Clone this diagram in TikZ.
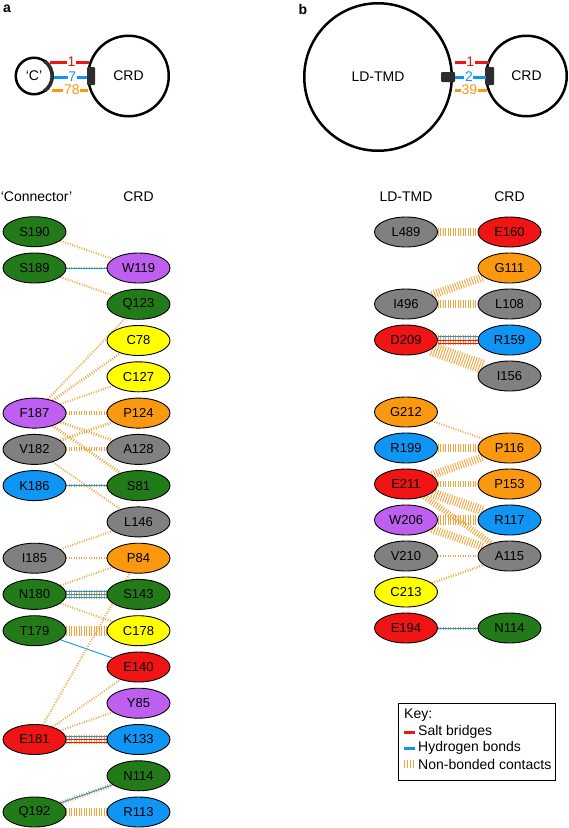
\documentclass[tikz,border=0pt]{standalone}
\usepackage{fontspec}
\setmainfont{Liberation Sans}
\usetikzlibrary{shapes.geometric,backgrounds}
\definecolor{cGreen}{RGB}{35,122,25}
\definecolor{cPurple}{RGB}{190,95,240}
\definecolor{cYellow}{RGB}{255,255,0}
\definecolor{cOrange}{RGB}{250,152,15}
\definecolor{cGray}{RGB}{128,128,128}
\definecolor{cBlue}{RGB}{15,150,245}
\definecolor{cRed}{RGB}{240,20,20}
\definecolor{cHatch}{RGB}{242,165,60}
\definecolor{cPatch}{RGB}{45,45,45}
\begin{document}
\begin{tikzpicture}[x=1pt,y=-1pt,
  res/.style={ellipse,draw=black,line width=0.9pt,minimum width=63pt,minimum height=30pt,inner sep=0pt,font=\fontsize{13}{15}\selectfont},
  hdr/.style={font=\fontsize{14}{16}\selectfont},
  bigc/.style={circle,draw=black,line width=2.5pt,inner sep=0pt,font=\fontsize{14}{16}\selectfont},
  plab/.style={font=\fontsize{14}{16}\selectfont\bfseries},
  nb/.style={draw=cHatch,line width=#1,dash pattern=on 0.9pt off 1.6pt},
  nb/.default=2pt,
  hb/.style={draw=cBlue,line width=0.9pt},
  sb/.style={draw=cRed,line width=0.9pt},
  fat/.style={line width=3pt},
  numlab/.style={fill=white,inner sep=0.6pt,font=\fontsize{14}{16}\selectfont},
  patch/.style={fill=cPatch,rounded corners=1pt},
  keytxt/.style={anchor=west,inner sep=0pt,font=\fontsize{14}{16}\selectfont}]
\useasboundingbox (0,0) rectangle (569,828);

% ---------- panel a ----------
\node[plab] (la) at (7,9) {a};
\node[bigc,minimum size=36.5pt] (Cc) at (34,76) {‘C’};
\node[bigc,minimum size=80.5pt] (CRDa) at (128.5,76) {CRD};
\draw[line width=3.6pt,cPatch] (34,76) ++(-55:18.25) arc (-55:55:18.25);
\fill[patch] (87,67) rectangle (95,85);
\coordinate (a1s) at (50,62); \coordinate (a1e) at (89,62);
\coordinate (a2s) at (54,77); \coordinate (a2e) at (87,77);
\coordinate (a3s) at (52,90); \coordinate (a3e) at (88,90);
\draw[fat,cRed] (a1s) -- (a1e) node[numlab,text=cRed,pos=0.55] {1};
\draw[fat,cBlue] (a2s) -- (a2e) node[numlab,text=cBlue,pos=0.55] {7};
\draw[fat,cOrange] (a3s) -- (a3e) node[numlab,text=cOrange,pos=0.55] {78};

% ---------- panel b ----------
\node[plab] (lb) at (303,9) {b};
\node[bigc,minimum size=147.5pt] (LDb) at (378,77) {LD-TMD};
\node[bigc,minimum size=80.5pt] (CRDb) at (526.5,76) {CRD};
\fill[patch] (441,72) rectangle (455,82);
\fill[patch] (485,67) rectangle (494,85);
\coordinate (b1s) at (455,62); \coordinate (b1e) at (489,62);
\coordinate (b2s) at (455,77); \coordinate (b2e) at (486,77);
\coordinate (b3s) at (455,90); \coordinate (b3e) at (487,90);
\draw[fat,cRed] (b1s) -- (b1e) node[numlab,text=cRed,pos=0.45] {1};
\draw[fat,cBlue] (b2s) -- (b2e) node[numlab,text=cBlue,pos=0.45] {2};
\draw[fat,cOrange] (b3s) -- (b3e) node[numlab,text=cOrange,pos=0.45] {39};

% ---------- headers ----------
\node[hdr] (hC) at (36.5,197) {‘Connector’};
\node[hdr] (hCRDa) at (138.5,197) {CRD};
\node[hdr] (hLD) at (406,197) {LD-TMD};
\node[hdr] (hCRDb) at (509.5,197) {CRD};

% ---------- left: Connector ----------
\node[res,fill=cGreen]  (S190) at (34.5,231.7) {S190};
\node[res,fill=cGreen]  (S189) at (34.5,268) {S189};
\node[res,fill=cPurple] (F187) at (34.5,413.1) {F187};
\node[res,fill=cGray]   (V182) at (34.5,449.4) {V182};
\node[res,fill=cBlue]   (K186) at (34.5,485.6) {K186};
\node[res,fill=cGray]   (I185) at (34.5,558.2) {I185};
\node[res,fill=cGreen]  (N180) at (34.5,594.4) {N180};
\node[res,fill=cGreen]  (T179) at (34.5,630.7) {T179};
\node[res,fill=cRed]    (E181) at (34.5,739.5) {E181};
\node[res,fill=cGreen]  (Q192) at (34.5,812) {Q192};
% ---------- left: CRD ----------
\node[res,fill=cPurple] (W119) at (138.5,268) {W119};
\node[res,fill=cGreen]  (Q123) at (138.5,304.3) {Q123};
\node[res,fill=cYellow] (C78)  at (138.5,340.5) {C78};
\node[res,fill=cYellow] (C127) at (138.5,376.8) {C127};
\node[res,fill=cOrange] (P124) at (138.5,413.1) {P124};
\node[res,fill=cGray]   (A128) at (138.5,449.4) {A128};
\node[res,fill=cGreen]  (S81)  at (138.5,485.6) {S81};
\node[res,fill=cGray]   (L146) at (138.5,521.9) {L146};
\node[res,fill=cOrange] (P84)  at (138.5,558.2) {P84};
\node[res,fill=cGreen]  (S143) at (138.5,594.4) {S143};
\node[res,fill=cYellow] (C178) at (138.5,630.7) {C178};
\node[res,fill=cRed]    (E140) at (138.5,667) {E140};
\node[res,fill=cPurple] (Y85)  at (138.5,703.2) {Y85};
\node[res,fill=cBlue]   (K133) at (138.5,739.5) {K133};
\node[res,fill=cGreen]  (N114a) at (138.5,775.8) {N114};
\node[res,fill=cBlue]   (R113) at (138.5,812) {R113};

% ---------- right: LD-TMD ----------
\node[res,fill=cGray]   (L489) at (406,232) {L489};
\node[res,fill=cGray]   (I496) at (406,304) {I496};
\node[res,fill=cRed]    (D209) at (406,340) {D209};
\node[res,fill=cOrange] (G212) at (406,412) {G212};
\node[res,fill=cBlue]   (R199) at (406,448) {R199};
\node[res,fill=cRed]    (E211) at (406,484) {E211};
\node[res,fill=cPurple] (W206) at (406,520) {W206};
\node[res,fill=cGray]   (V210) at (406,556) {V210};
\node[res,fill=cYellow] (C213) at (406,592) {C213};
\node[res,fill=cRed]    (E194) at (406,628) {E194};
% ---------- right: CRD ----------
\node[res,fill=cRed]    (E160) at (509.5,232) {E160};
\node[res,fill=cOrange] (G111) at (509.5,268) {G111};
\node[res,fill=cGray]   (L108) at (509.5,304) {L108};
\node[res,fill=cBlue]   (R159) at (509.5,340) {R159};
\node[res,fill=cGray]   (I156) at (509.5,376) {I156};
\node[res,fill=cOrange] (P116) at (509.5,448) {P116};
\node[res,fill=cOrange] (P153) at (509.5,484) {P153};
\node[res,fill=cBlue]   (R117) at (509.5,520) {R117};
\node[res,fill=cGray]   (A115) at (509.5,556) {A115};
\node[res,fill=cGreen]  (N114b) at (509.5,628) {N114};

% ---------- connectors ----------
\begin{scope}[on background layer]
  % left
  \draw[nb] (S190) -- (W119);
  \draw[nb] (S189.east) -- (W119.west);
  \draw[hb] (S189.east) -- (W119.west);
  \draw[nb] (S189) -- (Q123);
  \draw[nb] (F187) -- (Q123);
  \draw[nb=2.5pt] (F187) -- (C78);
  \draw[nb] (F187) -- (C127);
  \draw[nb=4pt] (F187.east) -- (P124.west);
  \draw[nb=3pt] (F187) -- (A128);
  \draw[nb=3pt] (F187) -- (S81);
  \draw[nb=3pt] (V182) -- (P124);
  \draw[nb=4pt] (V182.east) -- (A128.west);
  \draw[nb] (V182) -- (L146);
  \draw[nb=3pt] (K186.east) -- (S81.west);
  \draw[hb] (K186.east) -- (S81.west);
  \draw[nb] (I185) -- (L146);
  \draw[nb=2.5pt] (I185.east) -- (P84.west);
  \draw[nb] (N180) -- (P84);
  \draw[nb=9pt] (N180.east) -- (S143.west);
  \draw[hb] ([yshift=-3pt]N180.east) -- ([yshift=-3pt]S143.west);
  \draw[hb] (N180.east) -- (S143.west);
  \draw[hb] ([yshift=3pt]N180.east) -- ([yshift=3pt]S143.west);
  \draw[nb] (N180) -- (C178);
  \draw[nb=10pt] (T179.east) -- (C178.west);
  \draw[hb] (T179) -- (E140);
  \draw[nb] (E181) -- (P84);
  \draw[nb] (E181) -- (E140);
  \draw[nb] (E181) -- (Y85);
  \draw[nb=9pt] (E181.east) -- (K133.west);
  \draw[sb] ([yshift=-3pt]E181.east) -- ([yshift=-3pt]K133.west);
  \draw[sb] (E181.east) -- (K133.west);
  \draw[hb] ([yshift=3pt]E181.east) -- ([yshift=3pt]K133.west);
  \draw[nb=4pt] (Q192) -- (N114a);
  \draw[hb] (Q192) -- (N114a);
  \draw[nb=8pt] (Q192.east) -- (R113.west);
  % right
  \draw[nb=8pt] (L489.east) -- (E160.west);
  \draw[nb=8pt] (I496) -- (G111);
  \draw[nb=8pt] (I496.east) -- (L108.west);
  \draw[nb=10pt] (D209.east) -- (R159.west);
  \draw[sb] ([yshift=-3.5pt]D209.east) -- ([yshift=-3.5pt]R159.west);
  \draw[sb] (D209.east) -- (R159.west);
  \draw[hb] ([yshift=3.5pt]D209.east) -- ([yshift=3.5pt]R159.west);
  \draw[nb=14pt] (D209) -- (I156);
  \draw[nb] (G212) -- (P116);
  \draw[nb=8pt] (R199.east) -- (P116.west);
  \draw[nb=8pt] (E211) -- (P116);
  \draw[nb=6pt] (E211.east) -- (P153.west);
  \draw[nb=10pt] (E211) -- (R117);
  \draw[nb=6pt] (E211) -- (A115);
  \draw[nb=10pt] (W206.east) -- (R117.west);
  \draw[nb=8pt] (W206) -- (A115);
  \draw[nb=2.5pt] (V210.east) -- (A115.west);
  \draw[nb=2.5pt] (C213) -- (A115);
  \draw[nb=3pt] (E194.east) -- (N114b.west);
  \draw[hb] (E194.east) -- (N114b.west);
\end{scope}

% ---------- key ----------
\node[draw=black,line width=0.8pt,minimum width=157pt,minimum height=77pt,inner sep=0pt,anchor=north west] (keybox) at (398,703) {};
\node[keytxt] (kt) at (404,715) {Key:};
\coordinate (k1s) at (404,732); \coordinate (k1e) at (415,732);
\coordinate (k2s) at (404,748); \coordinate (k2e) at (415,748);
\coordinate (k3s) at (404,764); \coordinate (k3e) at (415,764);
\draw[fat,cRed] (k1s) -- (k1e);
\draw[fat,cBlue] (k2s) -- (k2e);
\draw[nb=8pt,dash pattern=on 0.9pt off 2pt] (k3s) -- (k3e);
\node[keytxt] (kl1) at (418,732) {Salt bridges};
\node[keytxt] (kl2) at (418,748) {Hydrogen bonds};
\node[keytxt] (kl3) at (418,764) {Non-bonded contacts};
\end{tikzpicture}
\end{document}
